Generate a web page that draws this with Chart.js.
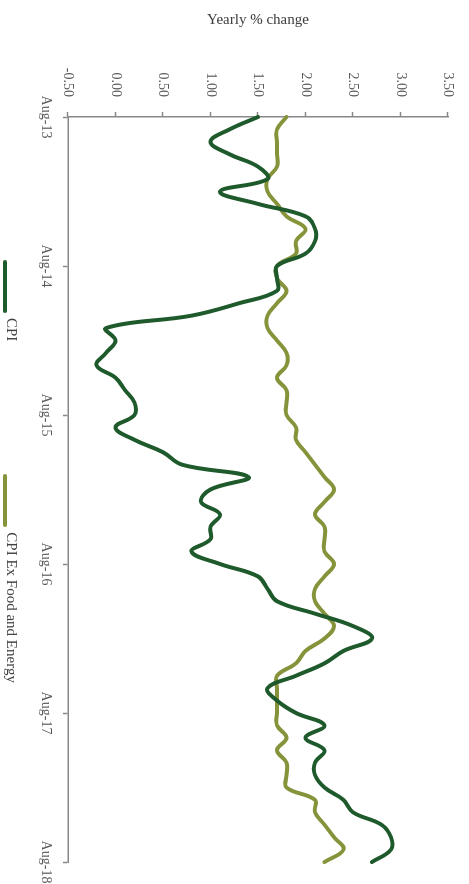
<!DOCTYPE html>
<html>
<head>
<meta charset="utf-8">
<script src="https://cdn.jsdelivr.net/npm/chart.js@4.4.1/dist/chart.umd.min.js"></script>
<style>
  html, body { margin: 0; padding: 0; background: #fff; }
  body { width: 469px; height: 884px; overflow: hidden; position: relative; }
  /* chart is drawn landscape, then turned a quarter clockwise */
  #wrap { position: absolute; left: 0; top: 0; width: 884px; height: 469px;
          transform-origin: 0 0; transform: translateX(469px) rotate(90deg); }
  #legend { position: absolute; left: 260px; top: 448px; display: flex; align-items: flex-start;
            font: 15px "Liberation Serif", serif; color: #404040; }
  .item { display: flex; align-items: flex-start; line-height: 18px; white-space: nowrap; }
  .item + .item { margin-left: 133px; }
  .swatch { width: 53px; height: 4px; border-radius: 2px; margin-top: 14px; margin-right: 5px; }
</style>
</head>
<body>
<div id="wrap">
  <canvas id="chart" width="884" height="469"></canvas>
  <div id="legend"></div>
</div>
<script>
const months = [
  'Aug-13','Sep-13','Oct-13','Nov-13','Dec-13',
  'Jan-14','Feb-14','Mar-14','Apr-14','May-14','Jun-14','Jul-14','Aug-14','Sep-14','Oct-14','Nov-14','Dec-14',
  'Jan-15','Feb-15','Mar-15','Apr-15','May-15','Jun-15','Jul-15','Aug-15','Sep-15','Oct-15','Nov-15','Dec-15',
  'Jan-16','Feb-16','Mar-16','Apr-16','May-16','Jun-16','Jul-16','Aug-16','Sep-16','Oct-16','Nov-16','Dec-16',
  'Jan-17','Feb-17','Mar-17','Apr-17','May-17','Jun-17','Jul-17','Aug-17','Sep-17','Oct-17','Nov-17','Dec-17',
  'Jan-18','Feb-18','Mar-18','Apr-18','May-18','Jun-18','Jul-18','Aug-18'
];

const cpi = [
  1.5, 1.2, 1.0, 1.2, 1.5,
  1.6, 1.1, 1.5, 2.0, 2.1, 2.1, 2.0, 1.7, 1.7, 1.7, 1.3, 0.8,
  -0.1, 0.0, -0.1, -0.2, 0.0, 0.1, 0.2, 0.2, 0.0, 0.2, 0.5, 0.7,
  1.4, 1.0, 0.9, 1.1, 1.0, 1.0, 0.8, 1.1, 1.5, 1.6, 1.7, 2.1,
  2.5, 2.7, 2.4, 2.2, 1.9, 1.6, 1.7, 1.9, 2.2, 2.0, 2.2, 2.1,
  2.1, 2.2, 2.4, 2.5, 2.8, 2.9, 2.9, 2.7
];

const cpiCore = [
  1.8, 1.7, 1.7, 1.7, 1.7,
  1.6, 1.6, 1.7, 1.8, 2.0, 1.9, 1.9, 1.7, 1.7, 1.8, 1.7, 1.6,
  1.6, 1.7, 1.8, 1.8, 1.7, 1.8, 1.8, 1.8, 1.9, 1.9, 2.0, 2.1,
  2.2, 2.3, 2.2, 2.1, 2.2, 2.2, 2.2, 2.3, 2.2, 2.1, 2.1, 2.2,
  2.3, 2.2, 2.0, 1.9, 1.7, 1.7, 1.7, 1.7, 1.7, 1.8, 1.7, 1.8,
  1.8, 1.8, 2.1, 2.1, 2.2, 2.3, 2.4, 2.2
];

const seriesNames = ['CPI', 'CPI Ex Food and Energy'];
const seriesColors = ['#1e5a2b', '#86933a'];
const axisGrey = '#888888';

Chart.defaults.font.family = '"Liberation Serif", serif';
Chart.defaults.font.size = 14;
Chart.defaults.color = '#595959';

const ctx = document.querySelector('#chart').getContext('2d');

const chart = new Chart(ctx, {
  type: 'line',
  data: {
    labels: months,
    datasets: [
      { label: seriesNames[0], data: cpi, borderColor: seriesColors[0], backgroundColor: seriesColors[0] },
      { label: seriesNames[1], data: cpiCore, borderColor: seriesColors[1], backgroundColor: seriesColors[1] }
    ]
  },
  options: {
    responsive: false,
    animation: false,
    devicePixelRatio: 1,
    layout: { padding: { top: 21, right: 22, bottom: 38, left: 0 } },
    elements: {
      line: { borderWidth: 4, tension: 0.4, borderCapStyle: 'round', borderJoinStyle: 'round', fill: false },
      point: { radius: 0, hoverRadius: 0 }
    },
    plugins: {
      legend: { display: false },
      tooltip: { enabled: false }
    },
    scales: {
      x: {
        // fixed box so the plot keeps the reference size
        afterFit: s => { s.height = 30; s.paddingLeft = 0; s.paddingRight = 0 },
        border: { color: axisGrey, width: 1.5 },
        grid: {
          drawOnChartArea: false,
          tickLength: 5,
          tickWidth: 1.5,
          tickColor: c => (c.index % 12 === 0 ? axisGrey : 'rgba(0,0,0,0)')
        },
        ticks: {
          autoSkip: false,
          maxRotation: 0,
          minRotation: 0,
          padding: 9,
          callback: (val, i) => (i % 12 === 0 ? months[i] : '')
        }
      },
      y: {
        min: -0.5,
        max: 3.5,
        afterFit: s => { s.width = 117; s.paddingTop = 0; s.paddingBottom = 0 },
        border: { color: axisGrey, width: 1.5 },
        grid: { drawOnChartArea: false, tickLength: 5, tickWidth: 1.5, color: axisGrey },
        ticks: { stepSize: 0.5, padding: 15, callback: v => v.toFixed(2) },
        title: {
          display: true,
          text: 'Yearly % change',
          color: '#404040',
          font: { size: 15 },
          padding: { top: 11, bottom: 0 }
        }
      }
    }
  }
});

// legend built from the datasets
const legend = document.querySelector('#legend');
chart.data.datasets.forEach(ds => {
  const item = document.createElement('div');
  item.className = 'item';
  const sw = document.createElement('span');
  sw.className = 'swatch';
  sw.style.background = ds.borderColor;
  const txt = document.createElement('span');
  txt.textContent = ds.label;
  item.appendChild(sw);
  item.appendChild(txt);
  legend.appendChild(item);
});
</script>
</body>
</html>
